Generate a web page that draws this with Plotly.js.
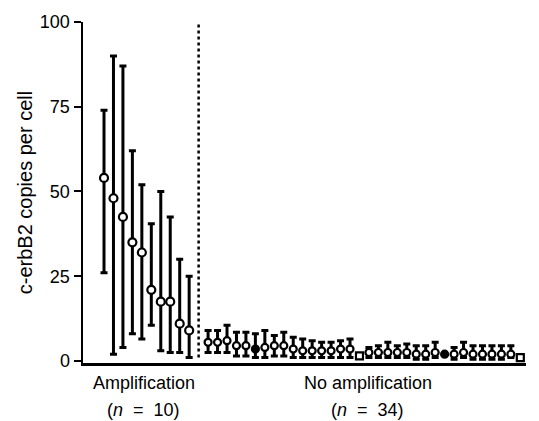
<!DOCTYPE html>
<html>
<head>
<meta charset="utf-8">
<script src="https://cdn.plot.ly/plotly-3.0.1.min.js"></script>
<style>html,body{margin:0;padding:0;background:#fff}#chart{width:539px;height:421px}</style>
</head>
<body>
<div id="chart"></div>
<script>
// Amplification group (n = 10)
var ampX = [1, 2, 3, 4, 5, 6, 7, 8, 9, 10];
var ampMean = [54, 48, 42.5, 35, 32, 21, 17.5, 17.5, 11, 9];
var ampUpper = [74, 90, 87, 62, 52, 40.5, 50, 42.5, 30, 25];
var ampLower = [26, 2, 4, 8, 6.5, 10.5, 3, 2.5, 2.5, 1];

// No amplification group (n = 34)
var noX = [12,13,14,15,16,17,18,19,20,21,22,23,24,25,26,27,28,29,30,31,32,33,34,35,36,37,38,39,40,41,42,43,44,45];
var noMean  = [5.5,5.5,6,4.5,4.5,3.5,4,4.5,4.5,3.5,3,3,3,3,3.5,3.5,1.5,2.5,2.5,2.5,2.5,2.5,2,2,2.5,2,2,2.5,2,2,2,2,2,1];
var noUpper = [9,9,10.5,8.5,8.5,8,9,7.5,8.5,7,6.5,6,5.5,5.5,6,6.5,1.5,4,4.5,5.5,4.5,5,4.5,4.5,5.5,2,4,5.5,4.5,4.5,4.5,4.5,4.5,1];
var noLower = [2.5,2.5,2.5,1.5,1.5,1,1,1.5,1.5,1,1,1,1,1,1,1,1.5,1,1,1,1,1,0.5,0.5,1,2,0.5,1,0.5,0.5,0.5,0.5,1,1];

var yTicks = [0, 25, 50, 75, 100];
var yTitle = 'c-erbB2 copies per cell';
var groupLabels = ['Amplification', 'No amplification'];
var groupNs = ['(<i>n</i>&nbsp; =&nbsp; 10)', '(<i>n</i>&nbsp; =&nbsp; 34)'];
var groupLabelX = [5.2, 28.9];
var dividerX = 11;

function errs(mean, up, lo) {
  return {
    plus: mean.map(function(m, i){ return up[i] - m; }),
    minus: mean.map(function(m, i){ return m - lo[i]; })
  };
}
var eA = errs(ampMean, ampUpper, ampLower);
var eN = errs(noMean, noUpper, noLower);

var noSymbols = noMean.map(function(v, i){ return (i === 16 || i === 33) ? 'square' : 'circle'; });
var noColors = noMean.map(function(v, i){ return (i === 5 || i === 25) ? '#000' : '#fff'; });

var traces = [
  {
    x: ampX, y: ampMean, type: 'scatter', mode: 'markers',
    marker: {symbol: 'circle', size: 8, color: '#fff', line: {color: '#000', width: 2.2}},
    error_y: {type: 'data', symmetric: false, array: eA.plus, arrayminus: eA.minus,
              color: '#000', thickness: 3, width: 3.5},
    hoverinfo: 'skip', showlegend: false
  },
  {
    x: noX, y: noMean, type: 'scatter', mode: 'markers',
    marker: {symbol: noSymbols, size: 7, color: noColors, line: {color: '#000', width: 2.2}},
    error_y: {type: 'data', symmetric: false, array: eN.plus, arrayminus: eN.minus,
              color: '#000', thickness: 3, width: 3.5},
    hoverinfo: 'skip', showlegend: false
  }
];

var font = {family: '"Liberation Sans", Arial, sans-serif', color: '#000'};

var annotations = [];
for (var g = 0; g < 2; g++) {
  annotations.push({x: groupLabelX[g], xref: 'x', y: -0.059, yref: 'paper', text: groupLabels[g],
    showarrow: false, xanchor: 'center', yanchor: 'middle', font: Object.assign({size: 18}, font)});
  annotations.push({x: groupLabelX[g], xref: 'x', y: -0.138, yref: 'paper', text: groupNs[g],
    showarrow: false, xanchor: 'center', yanchor: 'middle', font: Object.assign({size: 18}, font)});
}

var layout = {
  width: 539, height: 421,
  margin: {l: 83, r: 13, t: 22, b: 58},
  paper_bgcolor: '#fff', plot_bgcolor: '#fff',
  font: Object.assign({size: 18}, font),
  xaxis: {range: [-1.22, 45.6], showline: true, linewidth: 2.5, linecolor: '#000',
          showgrid: false, zeroline: false, ticks: '', showticklabels: false, fixedrange: true},
  yaxis: {range: [-0.6, 100], tickvals: yTicks, ticktext: yTicks.map(String),
          showline: true, linewidth: 2.5, linecolor: '#000', ticks: 'outside', ticklen: 7,
          tickwidth: 2, tickcolor: '#000', showgrid: false, zeroline: false,
          tickfont: Object.assign({size: 18}, font),
          title: {text: yTitle, font: Object.assign({size: 20}, font), standoff: 2}},
  shapes: [
    {type: 'line', xref: 'x', yref: 'y', x0: dividerX, x1: dividerX, y0: 1, y1: 101,
     line: {color: '#000', width: 2.5, dash: 'dot'}},
    {type: 'line', xref: 'paper', yref: 'y', x0: 0, x1: 0, y0: -0.6, y1: -3,
     line: {color: '#000', width: 2.5}}
  ],
  annotations: annotations
};

Plotly.newPlot('chart', traces, layout, {displayModeBar: false, staticPlot: true});
</script>
</body>
</html>
